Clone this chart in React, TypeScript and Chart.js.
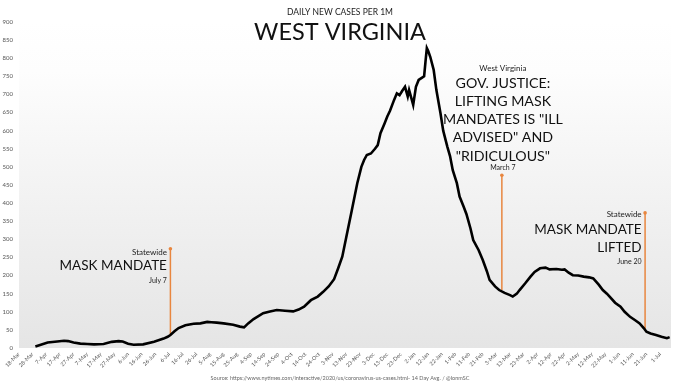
import React, { useEffect, useRef } from "react";
import { Chart, registerables } from "chart.js";

Chart.register(...registerables);

// Day 0 = 18-Mar-2020; one tick label every 10 days
const xTickLabels = [
  "18-Mar", "28-Mar", "7-Apr", "17-Apr", "27-Apr", "7-May", "17-May", "27-May",
  "6-Jun", "16-Jun", "26-Jun", "6-Jul", "16-Jul", "26-Jul", "5-Aug", "15-Aug",
  "25-Aug", "4-Sep", "14-Sep", "24-Sep", "4-Oct", "14-Oct", "24-Oct", "3-Nov",
  "13-Nov", "23-Nov", "3-Dec", "13-Dec", "23-Dec", "2-Jan", "12-Jan", "22-Jan",
  "1-Feb", "11-Feb", "21-Feb", "3-Mar", "13-Mar", "23-Mar", "2-Apr", "12-Apr",
  "22-Apr", "2-May", "12-May", "22-May", "1-Jun", "11-Jun", "21-Jun", "1-Jul",
];
const xTickDays = xTickLabels.map((_, i) => i * 10);
const yTickValues = [0, 50, 100, 150, 200, 250, 300, 350, 400, 450, 500, 550, 600, 650, 700, 750, 800, 850, 900];

// 14-day average of daily new cases per 1M (days since 18-Mar-2020)
const caseDays = [
  12, 16, 21, 28, 33, 36, 40, 45, 50, 55, 62, 68, 73, 76, 80, 84, 91, 99, 106, 109,
  111, 114, 117, 122, 128, 133, 138, 141, 145, 150, 157, 162, 165, 168, 172, 179, 184, 189, 195, 201,
  205, 209, 214, 219, 223, 227, 231, 234, 237, 240, 244, 248, 251, 253, 255, 258, 261, 263, 265, 268,
  270, 272, 275, 277, 279, 281, 283, 285, 286, 288, 289, 291, 293, 295, 297, 298, 299, 300, 301.5, 304,
  306, 309, 311, 314, 316, 318, 321, 323, 326, 328, 331, 333, 337, 340, 343, 345, 349, 352, 356, 360,
  362, 365, 367, 371, 375, 378, 382, 386, 389, 394, 398, 400, 403, 406, 410, 414, 418, 421, 425, 428,
  431, 433, 437, 441, 444, 448, 452, 455, 458, 460, 463, 467, 471, 475, 477,
];
const caseValues = [
  4, 9, 15, 18, 20, 19, 15, 12, 11, 10, 11, 17, 19, 18, 12, 9, 10, 17, 26, 31,
  36, 46, 55, 63, 67, 68, 72, 71, 70, 68, 64, 59, 57, 68, 80, 96, 101, 105, 103, 101,
  106, 114, 132, 142, 155, 170, 190, 220, 252, 307, 380, 455, 500, 519, 533, 537, 550, 560, 593, 620,
  639, 655, 685, 703, 698, 710, 721, 694, 712, 685, 671, 721, 740, 745, 750, 790, 828, 820, 804, 768,
  712, 648, 600, 556, 530, 491, 455, 418, 390, 370, 330, 298, 270, 243, 212, 188, 170, 160, 152, 146,
  142, 150, 160, 178, 197, 210, 220, 222, 217, 218, 216, 217, 208, 201, 200, 197, 195, 192, 175, 160,
  150, 142, 125, 114, 100, 86, 76, 68, 55, 45, 40, 36, 31, 27, 30,
];

// Event markers: day, top of marker, bottom of marker (values)
const eventDays = [111, 354, 459];
const eventTops = [274, 477, 373];
const eventBottoms = [36, 160, 48];

const titleSmall = "DAILY NEW CASES PER 1M";
const titleBig = "WEST VIRGINIA";
const sourceText = "Source: https://www.nytimes.com/interactive/2020/us/coronavirus-us-cases.html- 14 Day Avg. / @IonmSC";

const FONT = "Lato, 'Open Sans', sans-serif";

const overlayPlugin = {
  id: "overlay",
  beforeDraw(chart: any) {
    const { ctx, chartArea } = chart;
    const { left, right, top, bottom } = chartArea;
    ctx.save();
    ctx.fillStyle = "#ffffff";
    ctx.fillRect(0, 0, chart.width, chart.height);
    const g = ctx.createLinearGradient(0, top, 0, bottom);
    g.addColorStop(0, "#ffffff");
    g.addColorStop(0.15, "#fdfdfd");
    g.addColorStop(0.5, "#f3f3f3");
    g.addColorStop(1, "#e5e5e5");
    ctx.fillStyle = g;
    ctx.fillRect(left, top, right - left, bottom - top);
    ctx.restore();
  },
  beforeDatasetsDraw(chart: any) {
    const { ctx, scales } = chart;
    const xs = scales.x;
    const ys = scales.y;
    ctx.save();
    ctx.strokeStyle = "#e8863f";
    ctx.fillStyle = "#e8863f";
    ctx.lineWidth = 1.5;
    eventDays.forEach((d, i) => {
      const x = xs.getPixelForValue(d);
      const y1 = ys.getPixelForValue(eventTops[i]);
      const y2 = ys.getPixelForValue(eventBottoms[i]);
      ctx.beginPath();
      ctx.moveTo(x, y1);
      ctx.lineTo(x, y2);
      ctx.stroke();
      ctx.beginPath();
      ctx.arc(x, y1, 1.8, 0, Math.PI * 2);
      ctx.fill();
    });
    ctx.restore();
  },
  afterDraw(chart: any) {
    const { ctx, scales } = chart;
    const xs = scales.x;
    const ys = scales.y;
    const put = (t: string, x: number, y: number, size: number, align: string, color: string) => {
      ctx.font = `400 ${size}px ${FONT}`;
      ctx.textAlign = align;
      ctx.textBaseline = "middle";
      ctx.fillStyle = color;
      ctx.fillText(t, x, y);
    };
    ctx.save();
    put(titleSmall, 340, 12, 8.5, "center", "#222");
    put(titleBig, 340, 32, 23.5, "center", "#111");

    // July 7 marker
    const x1 = xs.getPixelForValue(eventDays[0]) - 3.5;
    const t1 = ys.getPixelForValue(eventTops[0]);
    put("Statewide", x1, t1 + 4, 8, "right", "#222");
    put("MASK MANDATE", x1, t1 + 17, 13.5, "right", "#111");
    put("July 7", x1, t1 + 32, 7, "right", "#222");

    // March 7 marker
    const x2 = xs.getPixelForValue(eventDays[1]) + 1;
    const t2 = ys.getPixelForValue(eventTops[1]);
    put("West Virginia", x2, t2 - 107, 8, "center", "#222");
    const lines = ["GOV. JUSTICE:", "LIFTING MASK", 'MANDATES IS "ILL', 'ADVISED" AND', '"RIDICULOUS"'];
    lines.forEach((l, i) => put(l, x2, t2 - 92 + i * 18.2, 14.2, "center", "#111"));
    put("March 7", x2, t2 - 7, 7, "center", "#222");

    // June 20 marker
    const x3 = xs.getPixelForValue(eventDays[2]) - 3.5;
    const t3 = ys.getPixelForValue(eventTops[2]);
    put("Statewide", x3, t3 + 2, 8, "right", "#222");
    put("MASK MANDATE", x3, t3 + 17, 13.5, "right", "#111");
    put("LIFTED", x3, t3 + 35, 13.5, "right", "#111");
    put("June 20", x3, t3 + 49, 7, "right", "#222");

    put(sourceText, 340, 378, 5.5, "center", "#666");
    ctx.restore();
  },
};

export default function App() {
  const ref = useRef<HTMLCanvasElement | null>(null);
  useEffect(() => {
    if (!ref.current) return;
    const chart = new Chart(ref.current, {
      type: "line",
      data: {
        datasets: [
          {
            data: caseDays.map((d, i) => ({ x: d, y: caseValues[i] })),
            borderColor: "#000000",
            borderWidth: 2.6,
            pointRadius: 0,
            tension: 0,
            fill: false,
          },
        ],
      },
      options: {
        animation: false,
        responsive: false,
        devicePixelRatio: 1,
        layout: { padding: { top: 22, right: 9, left: 0, bottom: 0 } },
        plugins: { legend: { display: false }, tooltip: { enabled: false } },
        scales: {
          x: {
            type: "linear",
            min: 0,
            max: 478,
            grid: { display: false, drawTicks: false },
            border: { display: false },
            afterBuildTicks: (s: any) => {
              s.ticks = xTickDays.map((v) => ({ value: v }));
            },
            afterFit: (s: any) => {
              s.height = 36;
            },
            ticks: {
              autoSkip: false,
              minRotation: 45,
              maxRotation: 45,
              padding: 3,
              color: "#555",
              font: { family: FONT, size: 5.5 },
              callback: (_v: any, i: number) => xTickLabels[i],
            },
          },
          y: {
            min: 0,
            max: 900,
            grid: { display: false, drawTicks: false },
            border: { display: false },
            afterBuildTicks: (s: any) => {
              s.ticks = yTickValues.map((v) => ({ value: v }));
            },
            afterFit: (s: any) => {
              s.width = 19;
            },
            ticks: {
              padding: 6,
              color: "#555",
              font: { family: FONT, size: 6 },
            },
          },
        },
      },
      plugins: [overlayPlugin],
    } as any);
    return () => chart.destroy();
  }, []);
  return (
    <div style={{ position: "fixed", left: 0, top: 0, width: 680, height: 384, background: "#fff" }}>
      <canvas ref={ref} width={680} height={384} style={{ display: "block" }} />
    </div>
  );
}
